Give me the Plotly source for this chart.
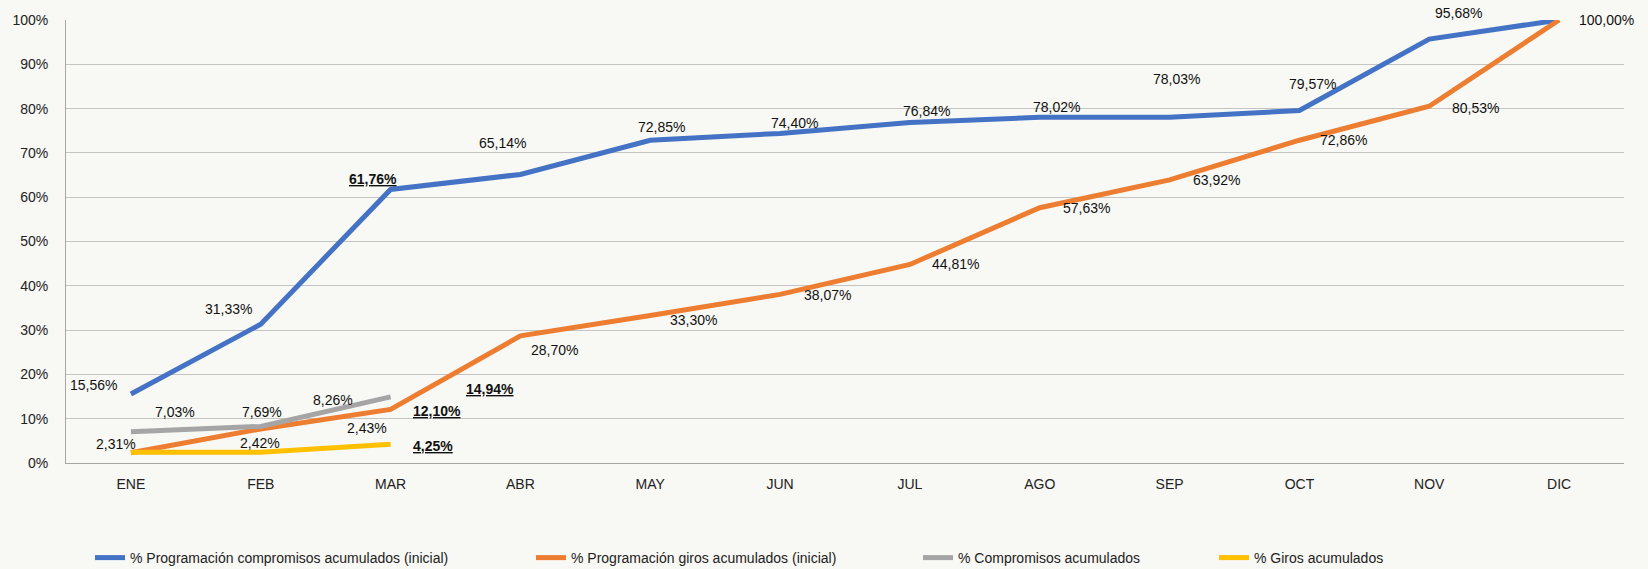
import plotly.graph_objects as go

months = ["ENE", "FEB", "MAR", "ABR", "MAY", "JUN", "JUL", "AGO", "SEP", "OCT", "NOV", "DIC"]

prog_compromisos = [15.56, 31.33, 61.76, 65.14, 72.85, 74.40, 76.84, 78.02, 78.03, 79.57, 95.68, 100.00]
prog_giros = [2.31, 7.69, 12.10, 28.70, 33.30, 38.07, 44.81, 57.63, 63.92, 72.86, 80.53, 100.00]
compromisos = [7.03, 8.26, 14.94]
giros = [2.42, 2.43, 4.25]

names = [
    "% Programación compromisos acumulados (inicial)",
    "% Programación giros acumulados (inicial)",
    "% Compromisos acumulados",
    "% Giros acumulados",
]
colors = ["#4472C4", "#ED7D31", "#A5A5A5", "#FFC000"]
series = [prog_compromisos, prog_giros, compromisos, giros]

# label offsets (px, right / down) per point, None = no label; bold = current month
label_offsets = [
    [(-37, -9), (-32, -15), (-18, -10), (-18, -31), (11, -13), (14, -10), (17, -12),
     (17, -10), (7, -38), (13, -27), (29, -26), (47, 0)],
    [(-15, -9), (1, -17), (46, 2), (34, 14), (43, 5), (47, 1), (46, 0),
     (47, 0), (47, 0), (44, 0), (46, 2), None],
    [(44, -20), (72, -26), (99, -8)],
    [(129, -9), (106, -24), (42, 2)],
]
bold_points = {(0, 2), (1, 2), (2, 2), (3, 2)}

legend_x = [90, 531, 918, 1214]

W, H = 1648, 569
font = "Liberation Sans, Arial, sans-serif"

fig = go.Figure()
for i, (vals, name, col) in enumerate(zip(series, names, colors)):
    leg = "legend" if i == 0 else "legend%d" % (i + 1)
    fig.add_trace(go.Scatter(
        x=months[:len(vals)], y=vals, mode="lines", name=name,
        line=dict(color=col, width=5), legend=leg,
    ))

annotations = []
for i, vals in enumerate(series):
    for j, v in enumerate(vals):
        off = label_offsets[i][j]
        if off is None:
            continue
        txt = ("%.2f%%" % v).replace(".", ",")
        if (i, j) in bold_points:
            txt = "<b><u>" + txt + "</u></b>"
        annotations.append(dict(
            x=months[j], y=v, xref="x", yref="y", text=txt, showarrow=False,
            xshift=off[0], yshift=-off[1], font=dict(family=font, size=14, color="#111"),
        ))

layout_legends = {}
for i, lx in enumerate(legend_x):
    key = "legend" if i == 0 else "legend%d" % (i + 1)
    layout_legends[key] = dict(
        x=lx / W, y=1 - 558 / H, xref="container", yref="container",
        xanchor="left", yanchor="middle", orientation="h",
        bgcolor="rgba(0,0,0,0)", font=dict(family=font, size=14, color="#222"),
    )

fig.update_layout(
    width=W, height=H,
    margin=dict(l=60, r=24, t=13, b=106),
    paper_bgcolor="#F8F8F4", plot_bgcolor="#F8F8F4",
    font=dict(family=font, size=14, color="#222"),
    showlegend=True,
    annotations=annotations,
    **layout_legends,
)
fig.update_xaxes(
    type="category", categoryorder="array", categoryarray=months,
    range=[-0.5, 11.5], showgrid=False, showline=True, linecolor="#A6A6A6",
    linewidth=1, ticks="", ticklabelstandoff=8, tickfont=dict(size=14),
)
fig.update_yaxes(
    range=[0, 100], dtick=10, ticksuffix="%", showgrid=True, gridcolor="#C4C4C4",
    gridwidth=1, showline=True, linecolor="#A6A6A6", linewidth=1, zeroline=False,
    ticks="", ticklabelstandoff=14, tickfont=dict(size=14),
)

fig.write_html("out.html", config={"displayModeBar": False},
               post_script="document.body.style.margin='0';")
